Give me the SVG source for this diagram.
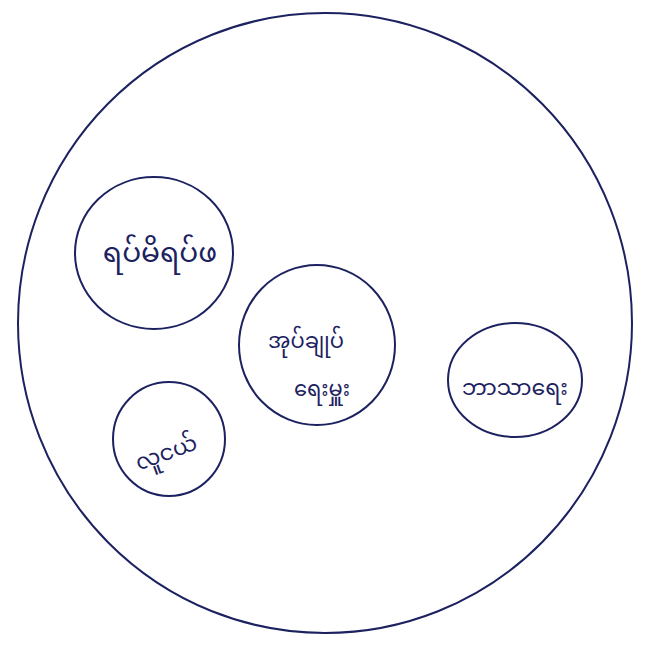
<svg xmlns="http://www.w3.org/2000/svg" width="645" height="661" viewBox="0 0 645 661">
<style>
.c{fill:none;stroke:#1c2160;stroke-width:2}
.t{font-family:"Noto Sans Myanmar","Padauk","Myanmar Text","Noto Sans","DejaVu Sans",sans-serif;fill:#1c2160;text-anchor:middle;font-size:22px}
</style>
<rect width="645" height="661" fill="#ffffff"/>
<g id="outer"><ellipse class="c" cx="325" cy="323" rx="307" ry="310"/></g>
<g id="n1"><ellipse class="c" cx="154" cy="253" rx="79" ry="76"/><text class="t" x="160" y="262" style="font-size:28px">ရပ်မိရပ်ဖ</text></g>
<g id="n2"><ellipse class="c" cx="317" cy="345" rx="78" ry="80"/><text class="t" x="306" y="348" style="font-size:21px">အုပ်ချုပ်</text><text class="t" x="322" y="396" style="font-size:21px">ရေးမှူး</text></g>
<g id="n3"><ellipse class="c" cx="515" cy="380" rx="67" ry="57"/><text class="t" x="515" y="395">ဘာသာရေး</text></g>
<g id="n4"><ellipse class="c" cx="169" cy="439" rx="56" ry="57"/><text class="t" x="166" y="460" transform="rotate(-20 166 452)">လူငယ်</text></g>
<g id="connectors"/>
</svg>
